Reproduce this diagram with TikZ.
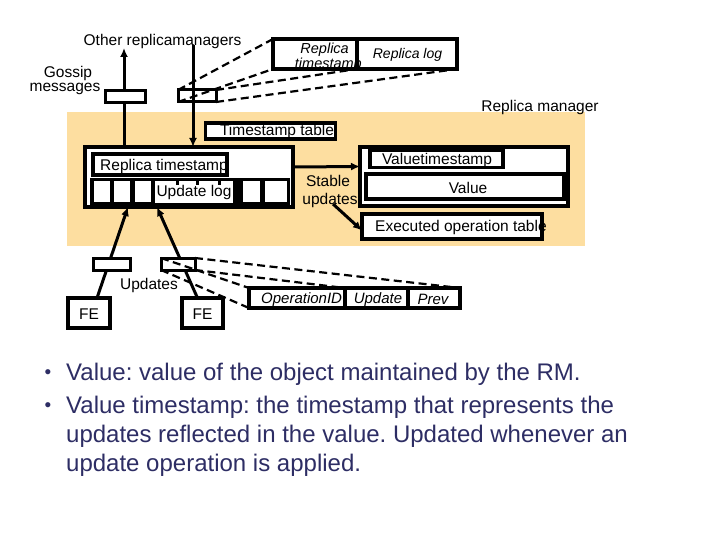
\documentclass[tikz,border=0pt]{standalone}
\usepackage{fontspec}
\setmainfont{Liberation Sans}
\usetikzlibrary{arrows.meta}
\definecolor{rmbg}{RGB}{253,222,160}
\definecolor{navy}{RGB}{45,45,100}
\frenchspacing
\begin{document}
\begin{tikzpicture}[x=1pt,y=-1pt,
  box/.style={rectangle,draw,fill=white,line width=3.5pt,inner sep=0pt,outer sep=0pt},
  sbox/.style={rectangle,draw,fill=white,line width=3pt,inner sep=0pt,outer sep=0pt},
  lbl/.style={font=\fontsize{15.5}{17}\selectfont,inner sep=0pt},
  ilbl/.style={font=\fontsize{15}{16}\selectfont\itshape,inner sep=0pt},
  conn/.style={line width=3pt,-{Latex[length=9pt,width=8pt]}},
  dsh/.style={line width=2.2pt,dash pattern=on 8pt off 4.5pt},
  bul/.style={font=\fontsize{24}{28}\selectfont,text=navy,inner sep=0pt,anchor=west}
]
\useasboundingbox (0,0) rectangle (720,540);
\fill[rmbg] (67,112) rectangle (585,246);

% named free ends
\coordinate (orm1) at (124,48);
\coordinate (orm2) at (193,45);
\coordinate (upd0) at (333,204);

% labels (top)
\node[lbl] (other) at (162.5,41) {Other replicamanagers};
\node[lbl] (gos1) at (68,73) {Gossip};
\node[lbl] (gos2) at (65,89) {messages};
\node[lbl] (rmlab) at (540,107) {Replica manager};

% main boxes (geometry first, used by connectors)
\node[box,line width=4pt,minimum width=208,minimum height=60] (rm) at (189,177) {};
\node[box,line width=4pt,minimum width=208,minimum height=59] (vb) at (464,176.5) {};
\node[box,minimum width=180,minimum height=25] (eot) at (452,226.5) {};
\node[box,minimum width=42,minimum height=30] (feL) at (89,313) {};
\node[box,minimum width=41,minimum height=30] (feR) at (202.5,313) {};

% solid connectors
\draw[conn] ([xshift=-65]rm.north) -- (orm1);
\draw[conn] ([xshift=8]feL.north) -- ([xshift=-61]rm.south);
\draw[conn] ([xshift=-5]feR.north) -- ([xshift=-32]rm.south);
\draw[conn] ([yshift=10]rm.east) -- ([yshift=10]vb.west);
\draw[conn] (upd0) -- ([yshift=-4]eot.west);

% small message boxes
\node[sbox,minimum width=40,minimum height=12] (gL) at (125,97) {};
\node[sbox,minimum width=38,minimum height=12] (gR) at (197,96) {};
\node[sbox,minimum width=37,minimum height=12] (uL) at (111.5,264) {};
\node[sbox,minimum width=34,minimum height=12] (uR) at (178,264) {};

\draw[conn] (orm2) -- ([xshift=4]rm.north);

% replica timestamp / replica log (gossip contents)
\node[box,minimum width=84,minimum height=30] (rts) at (315,54) {};
\node[box,minimum width=100,minimum height=30] (rlog) at (407,54) {};
\node[ilbl,font=\fontsize{14.5}{16}\selectfont\itshape,anchor=east] (rtsa) at (349,50) {Replica};
\node[ilbl,font=\fontsize{14.5}{16}\selectfont\itshape,anchor=east] (rtsb) at (362,65) {timestamp};
\node[ilbl,font=\fontsize{14}{16}\selectfont\itshape] (rlogt) at (407.5,55) {Replica log};
\draw[line width=3.5pt] (rts.north west) rectangle (rts.south east);
\draw[line width=3.5pt] (rlog.north west) rectangle (rlog.south east);

% timestamp table
\node[box,minimum width=130,minimum height=16] (tt) at (270.5,131) {};
\node[lbl] (ttt) at (277,131) {Timestamp table};

% replica manager inner content
\node[box,minimum width=134,minimum height=21] (rts2) at (160,164.5) {};
\node[lbl,anchor=west] (rts2t) at (100,166) {Replica timestamp};
\fill (90,178) rectangle (290,205);
\fill[white] (94,181) rectangle (110,202);
\fill[white] (114,181) rectangle (130,202);
\fill[white] (135,181) rectangle (151,202);
\fill[white] (155,181) rectangle (233,203);
\fill[white] (243,181) rectangle (260,202);
\fill[white] (265,181) rectangle (287,202);
\fill (176,181) rectangle (179,185);
\fill (196,181) rectangle (199,185);
\fill (218,181) rectangle (221,185);
\node[lbl] (ulog) at (194,192) {Update log};

% stable updates
\node[lbl] (st1) at (328,181) {Stable};
\node[lbl] (st2) at (330,200) {updates};

% value box content
\node[box,minimum width=133,minimum height=17] (vts) at (436.5,159) {};
\node[lbl] (vtst) at (437,160) {Valuetimestamp};
\node[box,minimum width=198,minimum height=25] (val) at (465,186.5) {};
\node[lbl] (valt) at (468,188) {Value};

% executed operation table
\node[lbl,anchor=west] (eott) at (375,227) {Executed operation table};
\draw[line width=3.5pt] (eot.north east) -- (eot.south east);

% front ends
\node[lbl] (feLt) at (89,314) {FE};
\node[lbl] (feRt) at (202.5,314) {FE};
\node[lbl] (updt) at (149,285) {Updates};

% update record
\node[box,minimum width=96,minimum height=20] (opid) at (297,298) {};
\node[box,minimum width=63,minimum height=20] (upd) at (376.5,298) {};
\node[box,minimum width=52,minimum height=20] (prev) at (434,298) {};
\node[ilbl,anchor=west] (opidt) at (261,299.5) {OperationID};
\node[ilbl] (updtt) at (378,299.5) {Update};
\node[ilbl] (prevt) at (433,299.5) {Prev};
\draw[line width=3.5pt] (opid.north west) rectangle (opid.south east);
\draw[line width=3.5pt] (upd.north west) rectangle (upd.south east);

% dashed expansion lines
\draw[dsh] (gR.north west) -- (rts.north west);
\draw[dsh] (gR.south west) -- (rts.south west);
\draw[dsh] (gR.north east) -- (rts.south east);
\draw[dsh] (gR.south east) -- (rlog.south east);
\draw[dsh] (uR.north west) -- (opid.north west);
\draw[dsh] (uR.south west) -- (opid.south west);
\draw[dsh] (uR.north east) -- (prev.north east);
\draw[dsh] (uR.south east) -- (upd.north west);

% bullet text
\node[font=\fontsize{19}{20}\selectfont,text=navy,inner sep=0pt] (b1) at (48,374) {•};
\node[font=\fontsize{19}{20}\selectfont,text=navy,inner sep=0pt] (b2) at (48,407) {•};
\node[bul] (l1) at (66,374) {Value: value of the object maintained by the RM.};
\node[bul] (l2) at (66,407) {Value timestamp: the timestamp that represents the};
\node[bul] (l3) at (66,436) {updates reflected in the value. Updated whenever an};
\node[bul] (l4) at (66,465) {update operation is applied.};
\end{tikzpicture}
\end{document}
